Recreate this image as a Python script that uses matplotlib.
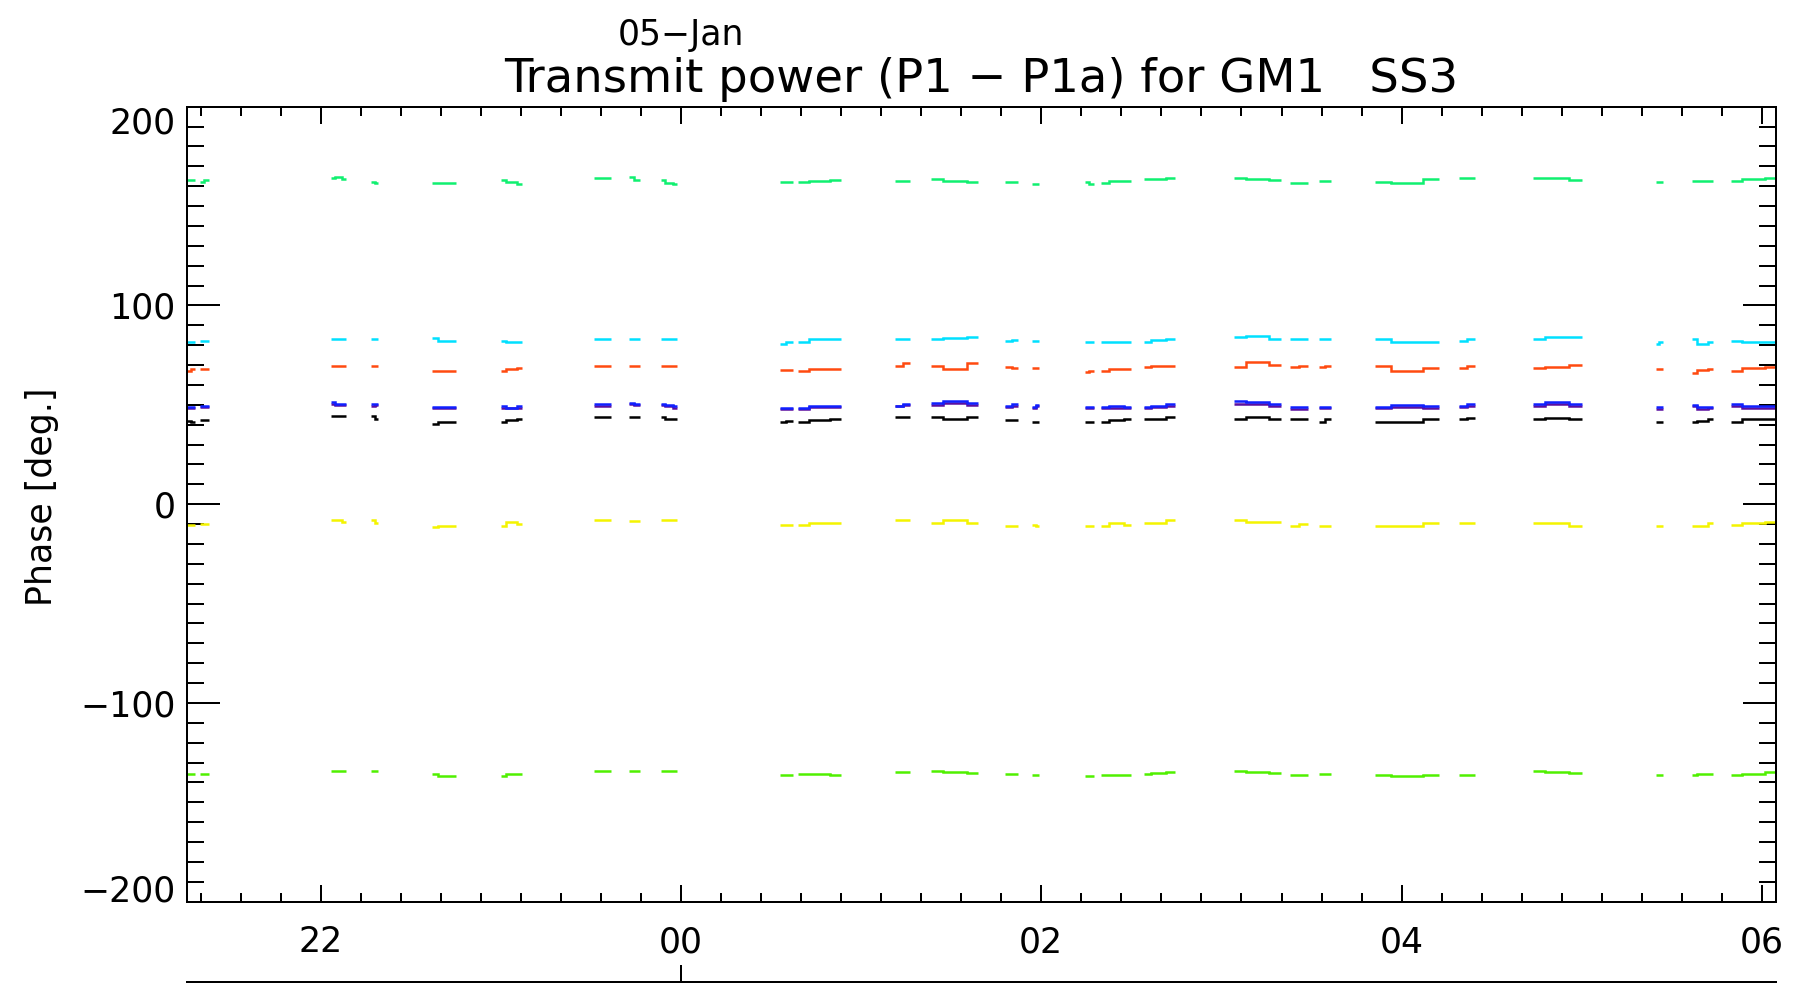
import matplotlib
matplotlib.use("Agg")
import numpy as np
import matplotlib.pyplot as plt
from matplotlib.ticker import FixedLocator, FixedFormatter, MultipleLocator
import matplotlib.transforms as mtransforms

plt.rcParams['font.family'] = ['DejaVu Sans']

# ---------------------------------------------------------------- text
title = "Transmit power (P1 \u2212 P1a) for GM1   SS3"
date_label = "05\u2212Jan"
ylabel = "Phase [deg.]"

# hours since 00:00 of the previous day (24 == 00 on 05-Jan)
hour_ticks = [22, 24, 26, 28, 30]
hour_labels = ["22", "00", "02", "04", "06"]
phase_ticks = [-200, -100, 0, 100, 200]
phase_labels = ["\u2212200", "\u2212100", "0", "100", "200"]

# ---------------------------------------------------------------- data
# time stamps of each continuous stretch of samples (hours)
segment_times = [
    [21.26, 21.30], [21.33, 21.38],
    [22.06, 22.10, 22.14], [22.28, 22.32],
    [22.62, 22.68, 22.75], [23.00, 23.06, 23.12],
    [23.52, 23.61], [23.71, 23.77], [23.89, 23.93, 23.98],
    [24.55, 24.62], [24.65, 24.77, 24.89],
    [25.19, 25.27], [25.39, 25.52, 25.65],
    [25.80, 25.87], [25.95, 25.99],
    [26.24, 26.29], [26.33, 26.42, 26.50], [26.57, 26.65, 26.74],
    [27.07, 27.20, 27.33], [27.38, 27.48], [27.54, 27.61],
    [27.85, 28.03, 28.21], [28.32, 28.41],
    [28.73, 28.86, 29.00], [29.41, 29.45],
    [29.61, 29.67, 29.73], [29.83, 29.95, 30.08],
]

phase_spring = [
    [163, 163], [162, 163], [164, 164.5, 163.5], [162, 161.5],
    [161.5, 161.5, 161.5], [163, 162, 161], [164, 164], [164.5, 163],
    [163, 161.5, 161], [162, 162], [162, 162.5, 163], [162.5, 162.5],
    [163.5, 162.5, 162], [162, 162], [161, 161], [162, 161],
    [161.5, 162.5, 162.5], [163.5, 163.5, 164], [164, 163.5, 163],
    [161.5, 161.5], [162.5, 162.5], [162, 161.5, 163.5], [164, 164],
    [164, 164, 163], [162, 162], [162.5, 162.5, 162.5], [162.5, 163.5, 164],
]
phase_cyan = [
    [81.8, 81.8], [82, 82], [83, 83, 83], [83, 83],
    [83.5, 82, 82], [82, 81.8, 81.8], [83, 83], [83, 83],
    [83, 83, 83], [80.6, 81.8], [81.8, 83, 83], [83, 83],
    [83, 83.5, 84.3], [82.3, 82.5], [82.3, 82.3], [81.8, 81.8],
    [81.8, 81.8, 81.8], [81.8, 82.8, 83], [84, 84.6, 83],
    [83, 83], [83, 83], [83, 81.8, 81.8], [82, 83],
    [83, 84.2, 84.3], [80.6, 81.8], [83, 80.6, 81.8], [82.3, 81.8, 81.8],
]
phase_orange = [
    [67, 68], [68, 68], [69.5, 69.5, 69.5], [69.5, 69.5],
    [67.2, 67.2, 67.2], [66.8, 68.2, 68.4], [69.5, 69.5], [69.5, 69.5],
    [69.5, 69.5, 69.5], [67.5, 67.5], [67.2, 68, 68.2], [69.5, 70.9],
    [69.5, 68.2, 70.9], [69, 68.4], [68.4, 68.4], [66.5, 67],
    [67.2, 68.2, 68.2], [68.9, 69.3, 69.5], [68.9, 71.5, 70],
    [68.9, 69.5], [68.9, 69.5], [69.5, 67.2, 68.4], [68.4, 69.5],
    [68.4, 68.9, 69.8], [67.8, 67.8], [65.8, 67.5, 68.2], [67, 68.4, 68.9],
]
phase_purple = [
    [48.5, 48.5], [48.8, 49], [50.5, 50, 49.8], [49.5, 49.8],
    [48.3, 48.2, 48.3], [48.5, 48.3, 48.6], [49.6, 49.6], [50.2, 49.8],
    [49.8, 49.4, 48.6], [48, 48], [48, 48.8, 48.8], [49.2, 49.8],
    [50, 51, 50], [49, 49.4], [48.2, 49.2], [48.2, 48.2],
    [48.2, 48.6, 48.2], [48.4, 49, 49.6], [50.6, 50.4, 49.4],
    [47.8, 47.8], [48.2, 48.2], [48.2, 49, 48.6], [48.8, 49.6],
    [49.6, 50.6, 49.6], [48, 48], [49.2, 48, 48.2], [49.4, 48.6, 48.6],
]
phase_blue = [
    [49, 49], [49.5, 49.5], [51.5, 50.4, 50.4], [50.5, 50.5],
    [49.1, 49.1, 49.1], [49.4, 48.6, 49.4], [50.2, 50.2], [51, 50.4],
    [50.4, 50, 49.4], [48.3, 48.3], [48.3, 49.4, 49.4], [49.6, 50.6],
    [50.7, 52, 51], [49.4, 50.2], [48.8, 49.8], [48.8, 48.8],
    [48.8, 49.4, 48.8], [48.8, 49.6, 50.6], [51.8, 51.6, 50.4],
    [48.8, 48.8], [49.1, 49.1], [49.1, 50, 49.4], [49.4, 50.4],
    [50.4, 51.6, 50.4], [48.8, 48.8], [50, 48.8, 49.1], [50.4, 49.4, 49.4],
]
phase_black = [
    [42, 41.5], [42.4, 42.4], [44.2, 44.2, 44.4], [44.2, 42.7],
    [40.4, 41.5, 41.5], [41.5, 42.2, 42.7], [44, 44], [44, 44],
    [44, 43, 42.7], [41.5, 42], [41.5, 42.2, 42.7], [44, 44],
    [44, 42.7, 44], [42.4, 42.4], [41.5, 41.5], [41.5, 41.5],
    [41.5, 42.4, 42.7], [42.7, 43, 44], [42.7, 44, 42.7],
    [42.7, 42.7], [41.5, 42.7], [41.5, 41.5, 42.7], [42.7, 43.5],
    [42.7, 43.2, 43], [41.5, 41.5], [41.5, 41.8, 42.7], [41.5, 42.7, 42.7],
]
phase_yellow = [
    [-10.5, -10.5], [-10, -10], [-7.9, -7.9, -9], [-7.9, -9.6],
    [-11.3, -10.8, -10.8], [-10.9, -9.2, -10], [-7.9, -7.9], [-8.5, -8.5],
    [-7.9, -7.9, -7.9], [-10.5, -10.5], [-10.5, -9.6, -9.6], [-7.9, -7.9],
    [-9.6, -8, -9.6], [-10.9, -10.9], [-10.5, -11], [-10.9, -10.9],
    [-10.9, -9.6, -10.5], [-9.6, -9.6, -8], [-8, -8.8, -9.2],
    [-10.9, -10], [-10.9, -10.9], [-10.9, -10.9, -9.6], [-9.6, -9.6],
    [-9.6, -9.6, -10.9], [-10.9, -10.9], [-10.9, -10.9, -9.6], [-10.5, -9.6, -9.2],
]
phase_lime = [
    [-135.5, -135.5], [-135.5, -135.5], [-134.1, -134.1, -134.1], [-134.1, -134.1],
    [-135.6, -136.8, -136.8], [-136.8, -135.6, -135.6], [-134.1, -134.1], [-134.1, -134.1],
    [-134.1, -134.1, -134.1], [-136.3, -136.3], [-135.6, -135.8, -136.3], [-134.5, -134.5],
    [-134.1, -134.8, -135.3], [-135.8, -135.8], [-136.5, -136.5], [-137, -137],
    [-136.5, -136.2, -136.5], [-135.5, -135.3, -134.8], [-134.1, -134.5, -135.3],
    [-136.5, -136.5], [-135.8, -135.8], [-136, -137, -136.5], [-136, -136],
    [-134.1, -134.5, -135.3], [-136.5, -136.5], [-136.5, -135.8, -135.8], [-136.5, -135.8, -134.8],
]

series = [
    (phase_spring, "#10f070"),
    (phase_cyan, "#00e0ff"),
    (phase_orange, "#ff4a10"),
    (phase_purple, "#5a0fa0"),
    (phase_blue, "#1020ff"),
    (phase_black, "#000000"),
    (phase_yellow, "#f4f400"),
    (phase_lime, "#50f000"),
]

# ---------------------------------------------------------------- figure
W, H = 1796, 990
fig = plt.figure(figsize=(W / 100, H / 100), dpi=100)
left, right, top, bottom = 187.3, 1776.0, 106.7, 901.7
ax = fig.add_axes([left / W, 1 - bottom / H, (right - left) / W, (bottom - top) / H])

lw = 2.0 * 72 / 100

for values, color in series:
    for t, v in zip(segment_times, values):
        ax.plot(t, v, color=color, lw=1.8, drawstyle="steps-mid",
                solid_capstyle="butt", solid_joinstyle="miter")

ax.set_xlim(21.26, 30.078)
ax.set_ylim(-200, 200)

ax.xaxis.set_major_locator(FixedLocator(hour_ticks))
ax.xaxis.set_major_formatter(FixedFormatter(hour_labels))
ax.xaxis.set_minor_locator(MultipleLocator(2 / 9))
ax.yaxis.set_major_locator(FixedLocator(phase_ticks))
ax.yaxis.set_major_formatter(FixedFormatter(phase_labels))
ax.yaxis.set_minor_locator(MultipleLocator(10))

ax.tick_params(which="both", direction="in", top=True, right=True,
               width=lw, color="black", labelsize=25, labelcolor="black")
ax.tick_params(axis="x", which="major", length=12.2, pad=17)
ax.tick_params(axis="x", which="minor", length=6.5)
ax.tick_params(axis="y", which="major", length=23.8, pad=8.6)
ax.tick_params(axis="y", which="minor", length=12.2)
for sp in ax.spines.values():
    sp.set_linewidth(lw)

# end labels of the phase axis sit inside the frame
yt = ax.yaxis.get_major_ticks()
yt[0].label1.set_verticalalignment("baseline")
yt[-1].label1.set_verticalalignment("top")

# date axis below the hour axis
date_y = 981.5
dax = fig.add_axes([left / W, 1 - date_y / H, (right - left) / W, 0.001])
dax.set_xlim(ax.get_xlim())
dax.set_xticks([24])
dax.set_yticks([])
dax.tick_params(axis="x", direction="in", length=12.2, width=lw, labelbottom=False)
for name, sp in dax.spines.items():
    sp.set_visible(name == "bottom")
    sp.set_linewidth(lw)
dax.patch.set_visible(False)

# texts
fig.text(((left + right) / 2) / W, 1 - 91.6 / H, title, ha="center", va="baseline",
         fontsize=33.5)
blend = mtransforms.blended_transform_factory(ax.transData, fig.transFigure)
fig.text(24.0, 1 - 45 / H, date_label, transform=blend, ha="center", va="baseline",
         fontsize=25)
fig.text(42 / W, 1 - 497 / H, ylabel, rotation=90, ha="center", va="center",
         fontsize=25)

fig.savefig("out.png", dpi=100)
